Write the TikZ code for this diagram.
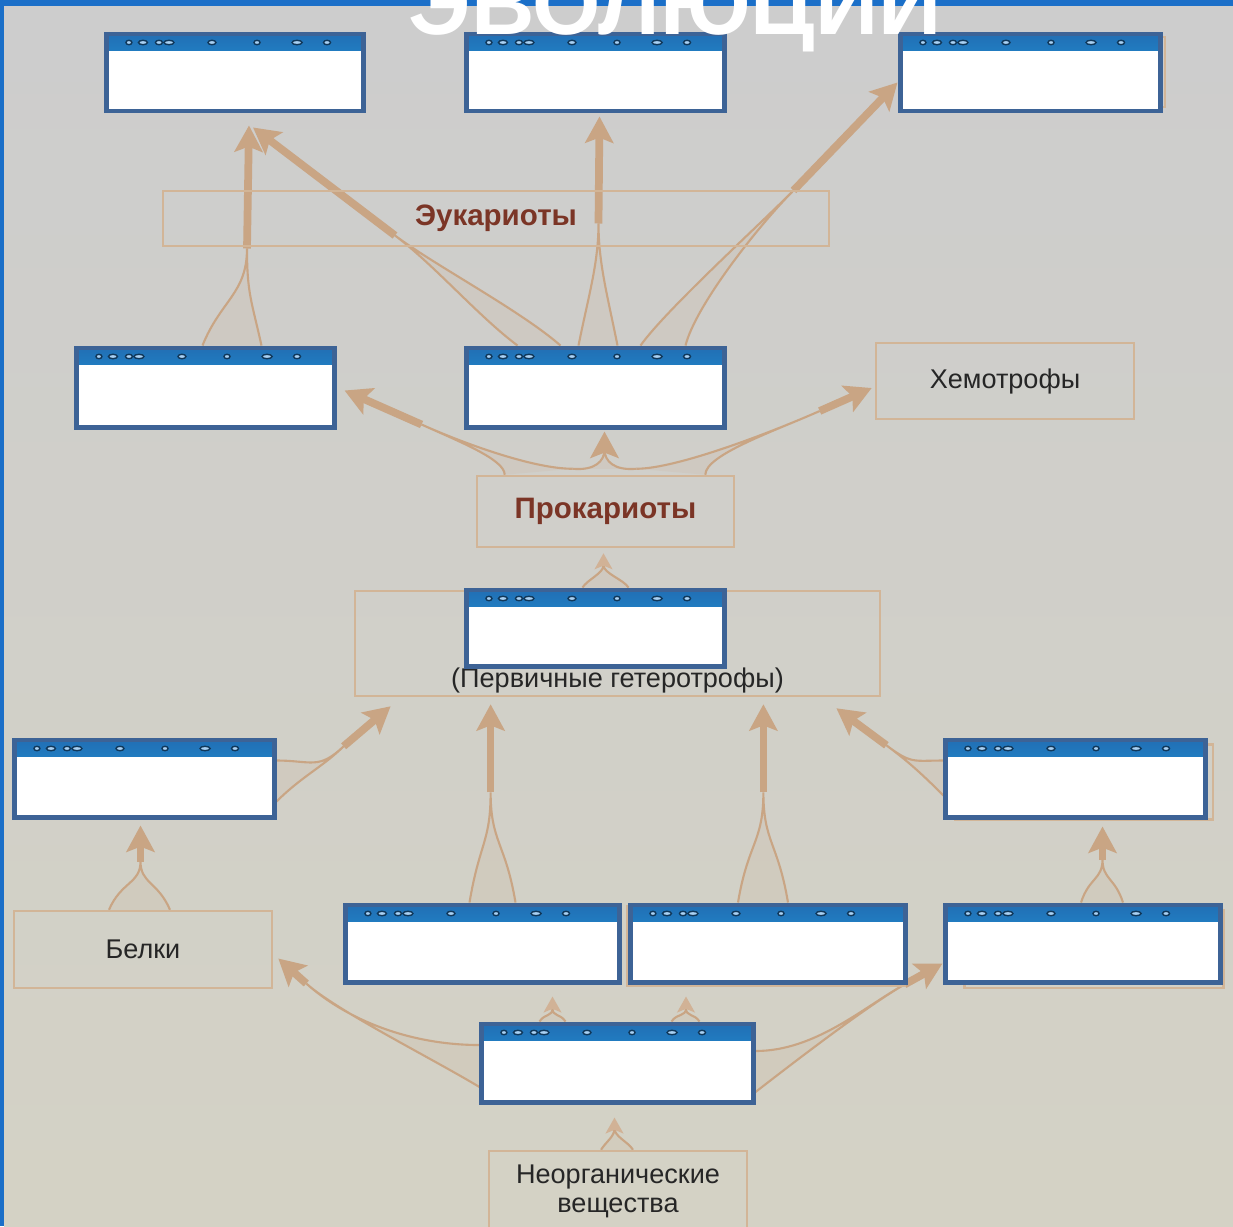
\documentclass[tikz,border=0pt]{standalone}
\usepackage{fontspec}
\setmainfont{Liberation Sans}
\usetikzlibrary{arrows.meta, calc}

\pgfdeclarelayer{back}
\pgfsetlayers{back,main}

\definecolor{slide}{HTML}{1B6FC8}
\definecolor{panel}{HTML}{CDCDCD}
\definecolor{panellow}{HTML}{D4D2C5}
\definecolor{boxblue}{HTML}{3D6396}
\definecolor{dropblue}{HTML}{2A8BE2}
\definecolor{tanline}{HTML}{D2B597}
\definecolor{arrowtan}{HTML}{C9A584}
\definecolor{labelbrown}{HTML}{7B3526}

\begin{document}
\begin{tikzpicture}[x=0.01cm, y=-0.01cm,
  blank/.style={rectangle, draw=boxblue, line width=1.4pt, fill=white,
    minimum width=2.57cm, minimum height=0.77cm, inner sep=0pt,
    path picture={
      \shade[top color=dropblue!80!black, bottom color=dropblue!75!cyan]
        (path picture bounding box.north west) rectangle ([yshift=-0.16cm]path picture bounding box.north east);
      \foreach \dx/\r in {0.22/0.03, 0.36/0.045, 0.52/0.035, 0.62/0.05, 1.05/0.04, 1.5/0.03, 1.9/0.05, 2.2/0.035}
        \draw[draw=dropblue!40!black, fill=dropblue!40!white, line width=0.4pt]
          ([xshift=\dx cm, yshift=-0.085cm]path picture bounding box.north west) ellipse (\r cm and 0.022cm);
    }},
  plain/.style={rectangle, draw=tanline, line width=0.7pt, inner sep=0pt,
    minimum width=2.58cm, minimum height=0.76cm, align=center,
    font=\fontsize{7.7}{8.3}\selectfont, text=black!85},
  heading/.style={font=\bfseries\fontsize{8.4}{10}\selectfont, text=labelbrown},
  strand/.style={draw=arrowtan, line width=0.6pt, preaction={fill=arrowtan, fill opacity=0.12}},
  body/.style={draw=arrowtan, line width=2.2pt, -{Stealth[width=8pt,length=7.5pt,inset=1.5pt]}},
  small body/.style={draw=arrowtan!85, line width=1pt, -{Stealth[width=5pt,length=4.5pt,inset=1pt]}}]

  \useasboundingbox (0,0) rectangle (1233,1226);
  \clip (0,0) rectangle (1233,1226);

  \begin{pgfonlayer}{back}
    \fill[slide] (0,0) rectangle (1233,1226);
    \shade[top color=panel, bottom color=panellow] (4,6) rectangle (1233,1226);
  \end{pgfonlayer}

  \node[plain, minimum width=2.6cm, minimum height=0.7cm] (t3back) at (1035,72) {};
  \node[plain, minimum width=2.58cm, minimum height=0.75cm] (r1back) at (1084,782) {};
  \node[plain, minimum width=2.78cm, minimum height=0.8cm] (b2back) at (766,946) {};
  \node[plain, minimum width=2.59cm, minimum height=0.78cm] (b3back) at (1094,949) {};

  \node[blank, minimum width=2.56cm] (t1) at (235,72.5) {};
  \node[blank] (t2) at (595.5,72.5) {};
  \node[blank, minimum width=2.59cm] (t3) at (1030.5,72.5) {};
  \node[plain, heading, minimum width=6.66cm, minimum height=0.55cm] (euk) at (496,218.5) {Эукариоты};
  \node[blank, minimum height=0.79cm] (m1) at (205.5,387.5) {};
  \node[blank, minimum height=0.79cm] (m2) at (595.5,387.5) {};
  \node[plain] (chemo) at (1005,381) {Хемотрофы};
  \node[plain, heading, minimum width=2.57cm, minimum height=0.71cm] (prok) at (605.5,511.5) {Прокариоты};
  \node[plain, minimum width=5.25cm, minimum height=1.05cm,
    label={[anchor=base, yshift=0.1cm, font=\fontsize{7.7}{8.3}\selectfont, text=black!85]south:(Первичные гетеротрофы)}] (prim) at (617.5,643.5) {};
  \node[blank, minimum height=0.76cm] (p1) at (595.5,628) {};
  \node[blank, minimum width=2.59cm] (l1) at (144.5,778.5) {};
  \node[blank, minimum width=2.59cm] (r1) at (1075.5,778.5) {};
  \node[plain, minimum height=0.77cm] (belki) at (143,949.5) {Белки};
  \node[blank, minimum width=2.73cm] (b1) at (482.5,943.5) {};
  \node[blank, minimum width=2.74cm] (b2) at (768,943.5) {};
  \node[blank, minimum width=2.74cm] (b3) at (1083,943.5) {};
  \node[blank, minimum width=2.71cm, minimum height=0.78cm] (c) at (617.5,1063) {};
  \node[plain, minimum height=0.8cm] (inorg) at (618,1191) {Неорганические\\вещества};

  \node[font=\bfseries\fontsize{25}{30}\selectfont, text=white, anchor=base] (title) at (675,34) {ЭВОЛЮЦИИ};

  \begin{pgfonlayer}{back}
    \draw[strand] ($(c.west)+(0,-18)$) .. controls +(-70,0) and +(40,36) .. ($(belki.east)+(33,34)$)
      .. controls +(30,27) and +(-50,-30) .. ($(c.west)+(0,24)$);
    \draw[body] ($(belki.east)+(33,34)$) -- ($(belki.east)+(5,9)$);

    \draw[strand] ($(c.north)+(-78,0)$) .. controls +(5,-8) and +(0,8) .. ($(b1.south)+(70,24)$)
      .. controls +(0,8) and +(-5,-8) .. ($(c.north)+(-52,0)$);
    \draw[small body] ($(b1.south)+(70,24)$) -- ($(b1.south)+(70,12)$);

    \draw[strand] ($(c.north)+(54,0)$) .. controls +(5,-8) and +(0,8) .. ($(b2.south)+(-82,24)$)
      .. controls +(0,8) and +(-5,-8) .. ($(c.north)+(82,0)$);
    \draw[small body] ($(b2.south)+(-82,24)$) -- ($(b2.south)+(-82,12)$);

    \draw[strand] ($(c.east)+(0,-12)$) .. controls +(60,0) and +(-40,22) .. ($(b3.west)+(-39,41)$)
      .. controls +(-35,20) and +(45,-35) .. ($(c.east)+(0,29)$);
    \draw[body] ($(b3.west)+(-39,41)$) -- ($(b3.west)+(-1,20)$);

    \draw[strand] ($(inorg.north)+(-17,0)$) .. controls +(5,-8) and +(0,8) .. ($(c.south)+(-3,24)$)
      .. controls +(0,8) and +(-5,-8) .. ($(inorg.north)+(15,0)$);
    \draw[small body] ($(c.south)+(-3,24)$) -- ($(c.south)+(-3,13)$);

    \draw[strand] ($(belki.north)+(-34,0)$) .. controls +(12,-28) and +(0,22) .. ($(l1.south)+(-4,42)$)
      .. controls +(0,22) and +(-12,-28) .. ($(belki.north)+(27,0)$);
    \draw[body] ($(l1.south)+(-4,42)$) -- ($(l1.south)+(-4,6)$);

    \draw[strand] ($(b1.north)+(-13,0)$) .. controls +(10,-60) and +(0,50) .. ($(prim.south west)+(137,95)$)
      .. controls +(0,50) and +(-10,-60) .. ($(b1.north)+(33,0)$);
    \draw[body] ($(prim.south west)+(137,95)$) -- ($(prim.south west)+(137,7)$);

    \draw[strand] ($(b2.north)+(-30,0)$) .. controls +(10,-60) and +(0,50) .. ($(prim.south east)+(-118,95)$)
      .. controls +(0,50) and +(-10,-60) .. ($(b2.north)+(20,0)$);
    \draw[body] ($(prim.south east)+(-118,95)$) -- ($(prim.south east)+(-118,7)$);

    \draw[strand] ($(b3.north)+(-2,0)$) .. controls +(8,-25) and +(0,20) .. ($(r1.south)+(27,40)$)
      .. controls +(0,20) and +(-8,-25) .. ($(b3.north)+(40,0)$);
    \draw[body] ($(r1.south)+(27,40)$) -- ($(r1.south)+(27,7)$);

    \draw[strand] ($(l1.east)+(0,-18)$) .. controls +(35,0) and +(-25,24) .. ($(prim.south west)+(-10,49)$)
      .. controls +(-20,20) and +(25,-25) .. ($(l1.east)+(0,23)$);
    \draw[body] ($(prim.south west)+(-10,49)$) -- ($(prim.south west)+(37,9)$);

    \draw[strand] ($(r1.west)+(0,-18)$) .. controls +(-30,0) and +(25,19) .. ($(prim.south east)+(5,48)$)
      .. controls +(20,15) and +(-25,-25) .. ($(r1.west)+(0,17)$);
    \draw[body] ($(prim.south east)+(5,48)$) -- ($(prim.south east)+(-45,11)$);

    \draw[strand] ($(p1.north)+(-13,0)$) .. controls +(5,-8) and +(0,8) .. ($(prok.south)+(-2,17)$)
      .. controls +(0,8) and +(-5,-8) .. ($(p1.north)+(33,0)$);
    \draw[small body] ($(prok.south)+(-2,17)$) -- ($(prok.south)+(-2,5)$);

    \draw[strand] ($(prok.north west)+(29,0)$) .. controls +(0,-15) and +(40,18) .. ($(m1.east)+(85,37)$)
      .. controls +(40,18) and +(-40,0) .. ($(prok.north)+(-33,-6)$);
    \draw[body] ($(m1.east)+(85,37)$) -- ($(m1.east)+(8,3)$);

    \draw[strand] ($(prok.north)+(-33,-6)$) .. controls +(22,2) and +(0,12) .. ($(m2.south)+(9,20)$)
      .. controls +(0,12) and +(-22,2) .. ($(prok.north)+(31,-6)$);
    \draw[body] ($(m2.south)+(9,20)$) -- ($(m2.south)+(9,2)$);

    \draw[strand] ($(prok.north)+(31,-6)$) .. controls +(40,0) and +(-50,22) .. ($(chemo.west)+(-55,30)$)
      .. controls +(-45,20) and +(0,-20) .. ($(prok.north east)+(-30,0)$);
    \draw[body] ($(chemo.west)+(-55,30)$) -- ($(chemo.west)+(-3,7)$);

    \draw[strand] ($(m1.north)+(-3,0)$) .. controls +(18,-45) and +(0,45) .. ($(t1.south)+(12,135)$)
      .. controls +(0,45) and +(-10,-45) .. ($(m1.north)+(56,0)$);
    \draw[body] ($(t1.south)+(12,135)$) -- ($(t1.south)+(14,12)$);

    \draw[strand] ($(m2.north)+(-78,0)$) .. controls +(-40,-30) and +(40,30) .. ($(t1.south)+(160,122)$)
      .. controls +(40,30) and +(-40,-35) .. ($(m2.north)+(-35,0)$);
    \draw[body] ($(t1.south)+(160,122)$) -- ($(t1.south)+(18,14)$);

    \draw[strand] ($(m2.north)+(-17,0)$) .. controls +(10,-50) and +(0,40) .. ($(t2.south)+(3,110)$)
      .. controls +(0,40) and +(-10,-50) .. ($(m2.north)+(22,0)$);
    \draw[body] ($(t2.south)+(3,110)$) -- ($(t2.south)+(4,3)$);

    \draw[strand] ($(m2.north)+(45,0)$) .. controls +(25,-35) and +(-40,40) .. ($(t3.west)+(-105,118)$)
      .. controls +(-35,35) and +(10,-40) .. ($(m2.north)+(90,0)$);
    \draw[body] ($(t3.west)+(-105,118)$) -- ($(t3.west)+(-1,10)$);
  \end{pgfonlayer}
\end{tikzpicture}
\end{document}
